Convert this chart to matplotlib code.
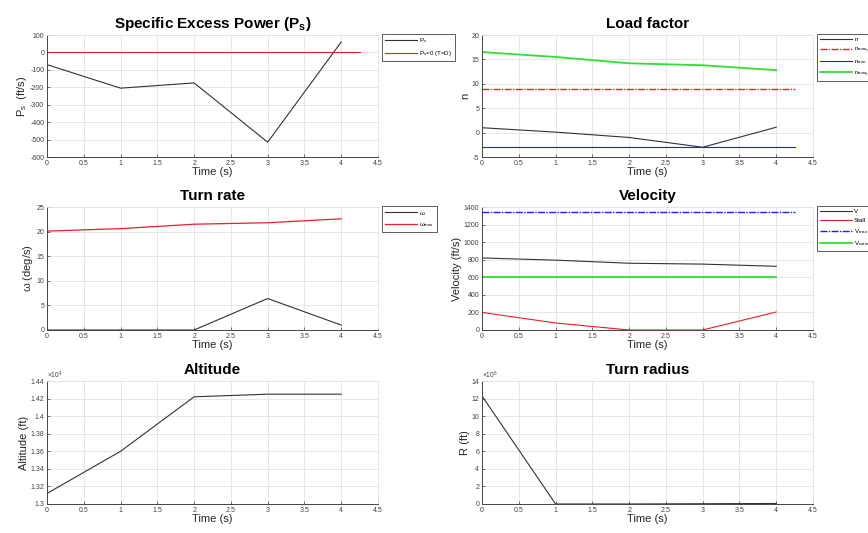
import matplotlib
matplotlib.use("Agg")
import matplotlib.pyplot as plt
from matplotlib.ticker import FuncFormatter

plt.rcParams['font.family'] = ['Liberation Sans', 'DejaVu Sans']
plt.rcParams['mathtext.fontset'] = 'custom'
plt.rcParams['mathtext.rm'] = 'Liberation Sans'
plt.rcParams['mathtext.it'] = 'Liberation Sans'
plt.rcParams['mathtext.bf'] = 'Liberation Sans:bold'

# ---- data ----
t = [0, 1, 2, 3, 4]
t_ref = [0, 4.25]

ps = [-70, -205, -175, -515, 60]
ps_zero = [0, 0]

n = [1.0, 0.1, -1.0, -3.0, 1.1]
n_max_s = [9, 9]
n_min = [-3, -3]
n_max_L = [16.5, 15.5, 14.2, 13.8, 12.8]

omega = [0, 0, 0, 6.4, 1.0]
omega_max = [20.1, 20.6, 21.5, 21.8, 22.6]

V = [820, 795, 760, 750, 725]
V_stall = [200, 80, 0, 0, 205]
V_max = [1345, 1345]
V_corner = [605, 605, 605, 605, 605]

alt = [13120, 13600, 14220, 14250, 14250]

R = [12.3e6, 2e3, 2e3, 3e4, 6e4]

xticks = [0, 0.5, 1, 1.5, 2, 2.5, 3, 3.5, 4, 4.5]

# ---- figure ----
W, H = 868, 533
fig = plt.figure(figsize=(W / 100, H / 100), dpi=100)

def ax_at(x0, y0, x1, y1):
    return fig.add_axes([x0 / W, 1 - y1 / H, (x1 - x0) / W, (y1 - y0) / H])

LX0, LX1 = 47, 378
RX0, RX1 = 482, 813
rows = [(35, 157), (207, 330), (381, 504)]

axs = [[ax_at(LX0, r[0], LX1, r[1]), ax_at(RX0, r[0], RX1, r[1])] for r in rows]

DARK = '#333333'
RED = '#e8202a'
BLUE = '#2020e0'
GREEN = '#33dd33'
TICKC = '#404040'

def style(ax, title, ylabel, ylim, yticks, fmt=None):
    ax.set_xlim(0, 4.5)
    ax.set_ylim(*ylim)
    ax.set_xticks(xticks)
    ax.set_xticklabels([f'{v:g}' for v in xticks])
    ax.set_yticks(yticks)
    if fmt is None:
        ax.set_yticklabels([f'{v:g}' for v in yticks])
    else:
        ax.yaxis.set_major_formatter(FuncFormatter(fmt))
    ax.grid(True, color='#e3e3e3', linewidth=0.6)
    ax.set_axisbelow(True)
    ax.tick_params(direction='in', length=2, width=0.5, labelsize=5,
                   colors=TICKC, pad=2)
    for s in ['left', 'bottom']:
        ax.spines[s].set_color('#444444')
        ax.spines[s].set_linewidth(0.7)
    for s in ['top', 'right']:
        ax.spines[s].set_color('#e3e3e3')
        ax.spines[s].set_linewidth(0.6)
    ax.set_title(title, fontsize=11, fontweight='bold', pad=5)
    ax.set_xlabel('Time (s)', fontsize=8, labelpad=0, color='#262626')
    ax.set_ylabel(ylabel, fontsize=8, labelpad=1, color='#262626')

def legend(ax):
    lg = ax.legend(loc='upper left', bbox_to_anchor=(1.012, 1.01), fontsize=4.5,
                   handlelength=5.2, handletextpad=0.3, labelspacing=0.6,
                   borderpad=0.45, frameon=True, fancybox=False, borderaxespad=0)
    lg.get_frame().set_edgecolor('#333333')
    lg.get_frame().set_linewidth(0.7)

# Ps
ax = axs[0][0]
ax.plot(t, ps, color=DARK, lw=0.8, label=r'P$_{\rm s}$')
ax.plot(t_ref, ps_zero, color=RED, lw=0.8, label=r'P$_{\rm s}$=0 (T=D)')
style(ax, r'Specific Excess Power (P$_\mathbf{s}$)', r'P$_{\rm s}$  (ft/s)',
      (-600, 100), list(range(-600, 101, 100)))
legend(ax)

# Load factor
ax = axs[0][1]
ax.plot(t, n, color=DARK, lw=0.8, label='n')
ax.plot(t_ref, n_max_s, color=RED, lw=1.0, dashes=(5, 1, 1, 1), label=r'n$_{\rm max_s}$')
ax.plot(t_ref, n_min, color=BLUE, lw=0.8, label=r'n$_{\rm min}$')
ax.plot(t, n_max_L, color=GREEN, lw=1.3, label=r'n$_{\rm max_L}$')
style(ax, 'Load factor', 'n', (-5, 20), list(range(-5, 21, 5)))
legend(ax)

# Turn rate
ax = axs[1][0]
ax.plot(t, omega, color=DARK, lw=0.8, label=r'$\omega$')
ax.plot(t, omega_max, color=RED, lw=0.9, label=r'$\omega_{\rm max}$')
style(ax, 'Turn rate', r'$\omega$ (deg/s)', (0, 25), list(range(0, 26, 5)))
legend(ax)

# Velocity
ax = axs[1][1]
ax.plot(t, V, color=DARK, lw=0.8, label='V')
ax.plot(t, V_stall, color=RED, lw=0.8, label='Stall')
ax.plot(t_ref, V_max, color=BLUE, lw=1.0, dashes=(5, 1, 1, 1), label=r'V$_{\rm max}$')
ax.plot(t, V_corner, color=GREEN, lw=1.3, label=r'V$_{\rm corner}$')
style(ax, 'Velocity', 'Velocity (ft/s)', (0, 1400), list(range(0, 1401, 200)))
legend(ax)

# Altitude
ax = axs[2][0]
ax.plot(t, alt, color=DARK, lw=0.8)
style(ax, 'Altitude', 'Altitude (ft)', (13000, 14400),
      [13000 + 200 * i for i in range(8)], fmt=lambda v, p: f'{v / 1e4:g}')
ax.text(0.0, 1.0, r'$\times$10$^4$', transform=ax.transAxes, fontsize=4.8,
        color=TICKC, ha='left', va='bottom')

# Turn radius
ax = axs[2][1]
ax.plot(t, R, color=DARK, lw=0.8)
style(ax, 'Turn radius', 'R (ft)', (0, 14e6), [2e6 * i for i in range(8)],
      fmt=lambda v, p: f'{v / 1e6:g}')
ax.text(0.0, 1.0, r'$\times$10$^6$', transform=ax.transAxes, fontsize=4.8,
        color=TICKC, ha='left', va='bottom')

fig.savefig('out.png', dpi=100)
